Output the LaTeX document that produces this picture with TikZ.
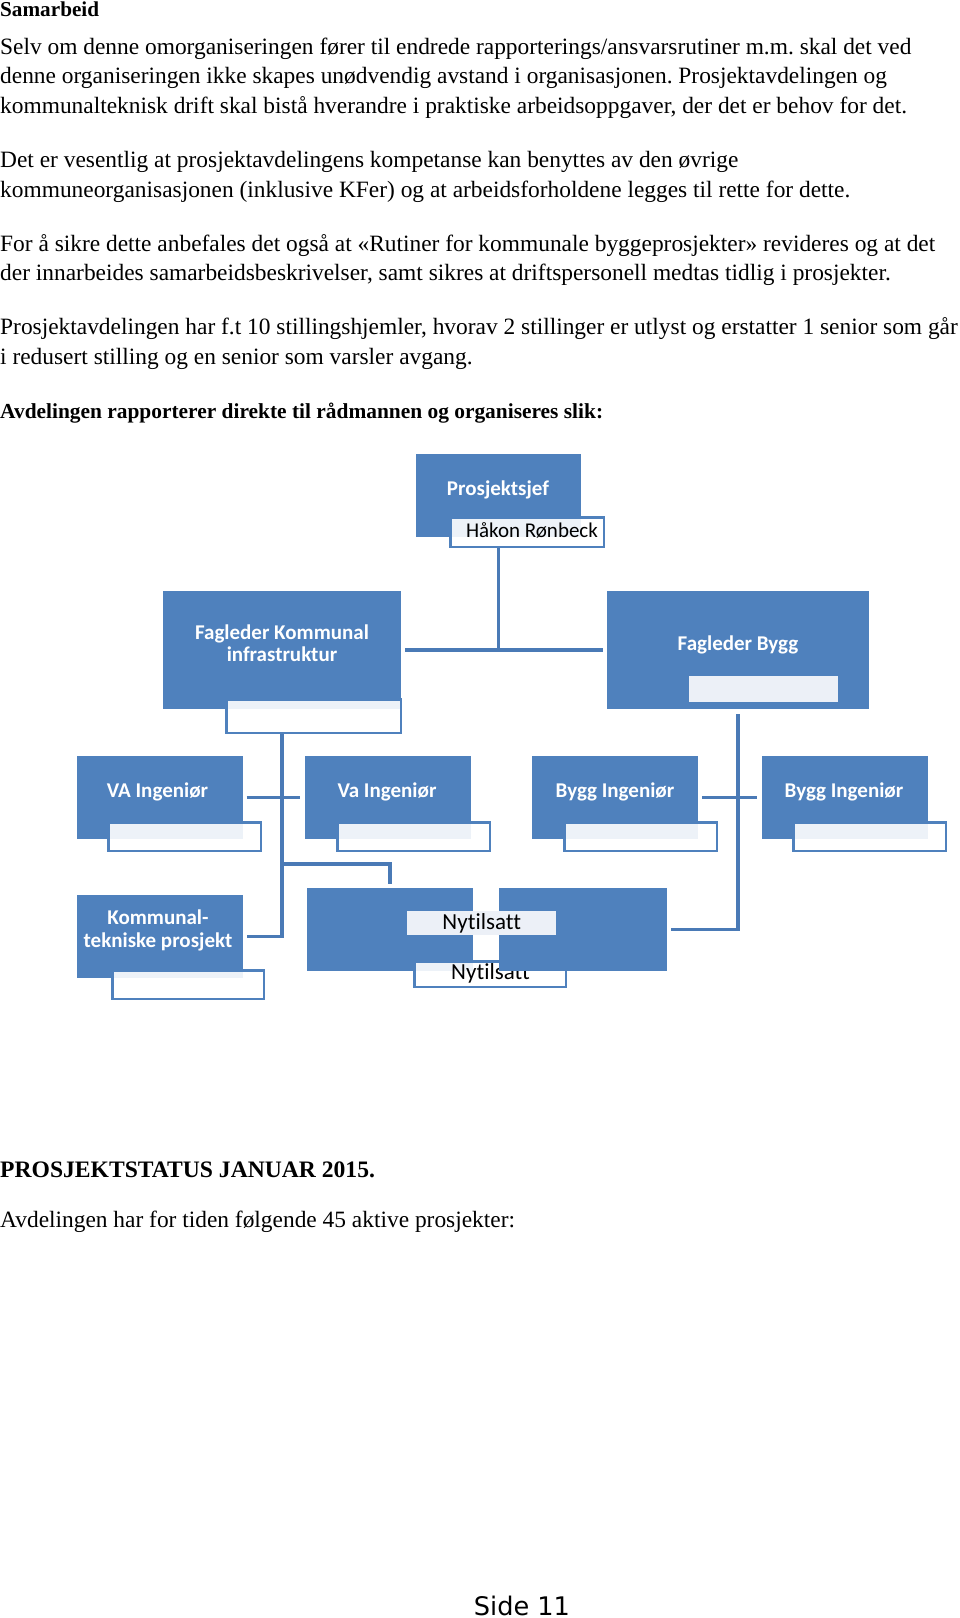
\documentclass[tikz,border=0pt]{standalone}
\usepackage{fontspec}
\setmainfont{Liberation Serif}
\newfontfamily\calibri[Ligatures=NoCommon]{Carlito}
\newfontfamily\verdana{DejaVu Sans}
\definecolor{boxblue}{HTML}{4F81BD}
\definecolor{lineblue}{HTML}{4A7AB6}
\definecolor{boxlight}{HTML}{ECF0F7}
\begin{document}
\frenchspacing
\begin{tikzpicture}[x=1pt,y=-1pt]
	\tikzstyle{txt}=[anchor=base west,inner sep=0pt,font=\fontsize{23.4}{28}\selectfont]
	\tikzstyle{head}=[txt,font=\fontsize{23.6}{28}\selectfont\bfseries]
	\tikzstyle{box}=[rectangle,fill=boxblue,inner sep=0pt,minimum width=166pt,minimum height=83pt]
	\tikzstyle{sub}=[rectangle,draw=boxblue,line width=2.5pt,fill=white,fill opacity=0.9,inner sep=0pt,minimum width=152.5pt,minimum height=28.5pt]
	\tikzstyle{tag}=[rectangle,fill=boxlight,inner sep=0pt]
	\tikzstyle{lbl}=[anchor=base,inner sep=0pt,text=white,font=\calibri\bfseries\fontsize{21}{22.5}\selectfont]
	\tikzstyle{person}=[anchor=base,inner sep=0pt,text=black,font=\calibri\fontsize{21}{22.5}\selectfont]
	\tikzstyle{edge}=[draw=lineblue,line width=3.5pt]

	\path[fill=white] (0,0) rectangle (960,1618);

	% tekst
	\node[head,font=\fontsize{21.2}{26}\selectfont\bfseries] (t0) at (0,16) {Samarbeid};
	\node[txt] (t1) at (0,54) {Selv om denne omorganiseringen fører til endrede rapporterings/ansvarsrutiner m.m. skal det ved};
	\node[txt] (t2) at (0,83.6) {denne organiseringen ikke skapes unødvendig avstand i organisasjonen. Prosjektavdelingen og};
	\node[txt] (t3) at (0,113.2) {kommunalteknisk drift skal bistå hverandre i praktiske arbeidsoppgaver, der det er behov for det.};
	\node[txt] (t4) at (0,167.5) {Det er vesentlig at prosjektavdelingens kompetanse kan benyttes av den øvrige};
	\node[txt] (t5) at (0,197.1) {kommuneorganisasjonen (inklusive KFer) og at arbeidsforholdene legges til rette for dette.};
	\node[txt] (t6) at (0,251.2) {For å sikre dette anbefales det også at «Rutiner for kommunale byggeprosjekter» revideres og at det};
	\node[txt] (t7) at (0,280.8) {der innarbeides samarbeidsbeskrivelser, samt sikres at driftspersonell medtas tidlig i prosjekter.};
	\node[txt] (t8) at (0,334.6) {Prosjektavdelingen har f.t 10 stillingshjemler, hvorav 2 stillinger er utlyst og erstatter 1 senior som går};
	\node[txt] (t9) at (0,364.2) {i redusert stilling og en senior som varsler avgang.};
	\node[head,font=\fontsize{21.4}{26}\selectfont\bfseries] (t10) at (0,418) {Avdelingen rapporterer direkte til rådmannen og organiseres slik:};

	% organisasjonskart
	\node[box,minimum width=165pt] (ps) at (498.5,495.5) {};
	\node[lbl] (psl) at (498,495) {Prosjektsjef};
	\node[sub,minimum width=153.5pt,minimum height=29.5pt] (hk) at (527,532) {};
	\node[person] (hkl) at (532,537) {Håkon Rønbeck};

	\node[box,minimum width=238pt,minimum height=118pt] (fk) at (282,650) {};
	\node[lbl,anchor=center,align=center] (fkl) at (282,643) {Fagleder Kommunal\\infrastruktur};
	\node[sub,minimum width=174.5pt,minimum height=33.5pt] (fks) at (313.5,716) {};

	\node[box,minimum width=262pt,minimum height=118pt] (fb) at (738,650) {};
	\node[lbl] (fbl) at (738,650) {Fagleder Bygg};
	\node[tag,minimum width=149pt,minimum height=26pt] (fbs) at (763.5,689) {};

	\node[box] (va) at (159.5,797.5) {};
	\node[lbl] (val) at (157.5,797) {VA Ingeniør};
	\node[sub] (vas) at (184.5,836.5) {};

	\node[box] (vb) at (387.5,797.5) {};
	\node[lbl] (vbl) at (387,797) {Va Ingeniør};
	\node[sub] (vbs) at (413.5,836.5) {};

	\node[box] (b1) at (615,797.5) {};
	\node[lbl] (b1l) at (615,797) {Bygg Ingeniør};
	\node[sub] (b1s) at (640.5,836.5) {};

	\node[box] (b2) at (844.5,797.5) {};
	\node[lbl] (b2l) at (844,797) {Bygg Ingeniør};
	\node[sub] (b2s) at (869.5,836.5) {};

	\node[box] (kt) at (159.5,936.5) {};
	\node[lbl,anchor=center,align=center] (ktl) at (158,930.4) {Kommunal-\\tekniske prosjekt};
	\node[sub,minimum width=151.5pt] (kts) at (188,984.5) {};

	\node[box] (nl) at (390,929.5) {};
	\node[sub,minimum width=151.5pt,minimum height=25.5pt] (nls) at (490,974) {};
	\node[person,font=\calibri\fontsize{23}{25}\selectfont] (nlsl) at (490.5,979.8) {Nytilsatt};
	\node[box,minimum width=168pt] (nr) at (583,929.5) {};
	\node[tag,minimum width=149pt,minimum height=24pt] (nrs) at (481.5,923) {};
	\node[person,font=\calibri\fontsize{23}{25}\selectfont] (nrsl) at (481.7,929) {Nytilsatt};

	\coordinate (kbr) at (282,864);

	\path[edge] (ps |- hk.south) -- (ps |- fk);
	\path[edge,shorten <=4pt,shorten >=4pt] (fk) -- (fb);
	\path[edge,shorten >=4pt] (fk |- fks.south) |- (kt.east);
	\path[edge,shorten <=4pt,shorten >=4pt] (va) -- (vb);
	\path[edge,shorten >=4pt] (kbr) -| (nl.north);
	\path[edge,shorten <=5pt,shorten >=4pt] (fb) |- (nr);
	\path[edge,shorten <=4pt,shorten >=4pt] (b1) -- (b2);

	% status
	\node[head] (s1) at (0,1177) {PROSJEKTSTATUS JANUAR 2015.};
	\node[txt] (s2) at (0,1227.5) {Avdelingen har for tiden følgende 45 aktive prosjekter:};

	\node[anchor=base,inner sep=0pt,font=\verdana\fontsize{25.6}{28}\selectfont] (side) at (522,1615) {Side 11};
\end{tikzpicture}
\end{document}
